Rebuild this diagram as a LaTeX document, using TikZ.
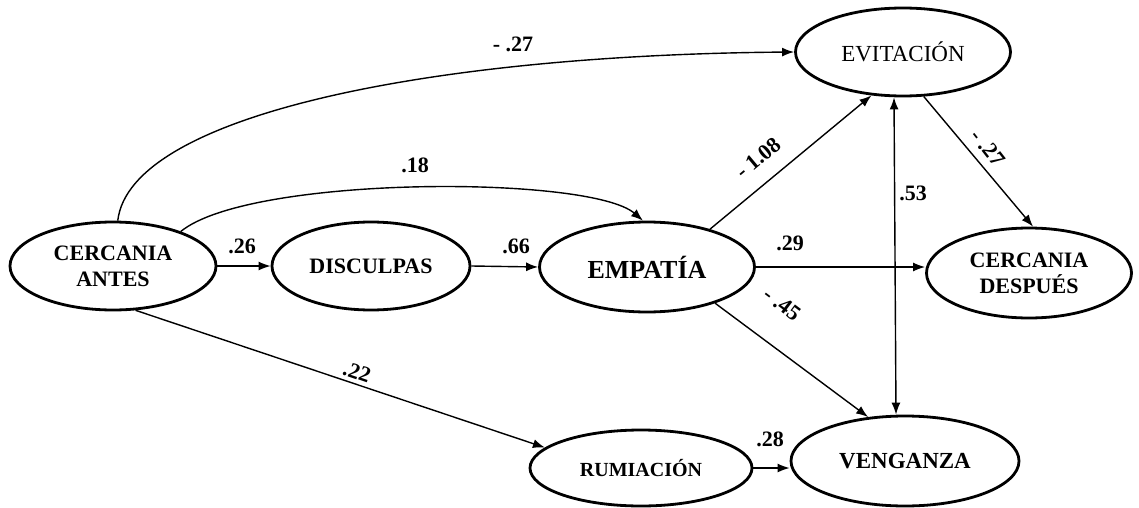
\documentclass[tikz,border=0pt]{standalone}
\usepackage{fontspec}
\setmainfont{Liberation Serif}
\usetikzlibrary{shapes.geometric,arrows.meta}
\tikzset{
  var/.style={ellipse,draw,line width=2.8pt,inner sep=0pt,font=\fontsize{22}{26}\selectfont\bfseries,align=center},
  path/.style={line width=1.4pt,-{Latex[length=12pt,width=9pt]}},
  coef/.style={font=\fontsize{22}{24}\selectfont\bfseries,inner sep=1pt}
}
\begin{document}
\begin{tikzpicture}[x=1pt,y=-1pt]
\useasboundingbox (0,0) rectangle (1139,508);
% nodes
\node[var,minimum width=206,minimum height=88] (ca) at (113,266) {CERCANIA\\ANTES};
\node[var,minimum width=198,minimum height=88] (dis) at (371,266) {DISCULPAS};
\node[var,minimum width=215,minimum height=90,font=\fontsize{26}{28}\selectfont\bfseries] (emp) at (647,267) {EMPATÍA};
\node[var,minimum width=215,minimum height=88,font=\fontsize{23}{25}\selectfont] (evi) at (903,52) {EVITACIÓN};
\node[var,minimum width=205,minimum height=90] (cd) at (1029,273) {CERCANIA\\DESPUÉS};
\node[var,minimum width=222,minimum height=76,font=\fontsize{20}{22}\selectfont\bfseries] (rum) at (641,468) {RUMIACIÓN};
\node[var,minimum width=228,minimum height=90,font=\fontsize{23}{25}\selectfont\bfseries] (ven) at (905,461) {VENGANZA};
% connectors
\draw[path] (ca.84) .. controls (130,115) and (430,55) .. (evi.west);
\draw[path] (ca.27) .. controls (250,175) and (590,175) .. (emp.95);
\draw[path] (ca.east) -- (dis.west);
\draw[path] (dis.east) -- (emp.west);
\draw[path] (emp.31) -- (evi.234);
\draw[path] (emp.east) -- (emp.east -| cd.west);
\draw[path] (emp.332) -- (ven.130);
\draw[path] (evi.295) -- (cd.85);
\draw[line width=1.4pt,{Latex[length=12pt,width=9pt]}-{Latex[length=12pt,width=9pt]}] ([xshift=-9pt]evi.south) -- ([xshift=-9pt]ven.north);
\draw[path] (ca.297) -- (rum.168);
\draw[path] (rum.east) -- (rum.east -| ven.west);
% coefficients
\node[coef] (c1) at (513,44) {- .27};
\node[coef] (c2) at (415,165) {.18};
\node[coef] (c3) at (242,246) {.26};
\node[coef] (c4) at (516,246) {.66};
\node[coef,rotate=40] (c5) at (758,158) {- 1.08};
\node[coef] (c6) at (790,243) {.29};
\node[coef] (c7) at (913,193) {.53};
\node[coef,rotate=-52] (c8) at (988,148) {- .27};
\node[coef,rotate=-37] (c9) at (782,304) {- .45};
\node[coef,rotate=-19] (c10) at (357,372) {.22};
\node[coef] (c11) at (770,439) {.28};
\end{tikzpicture}
\end{document}
